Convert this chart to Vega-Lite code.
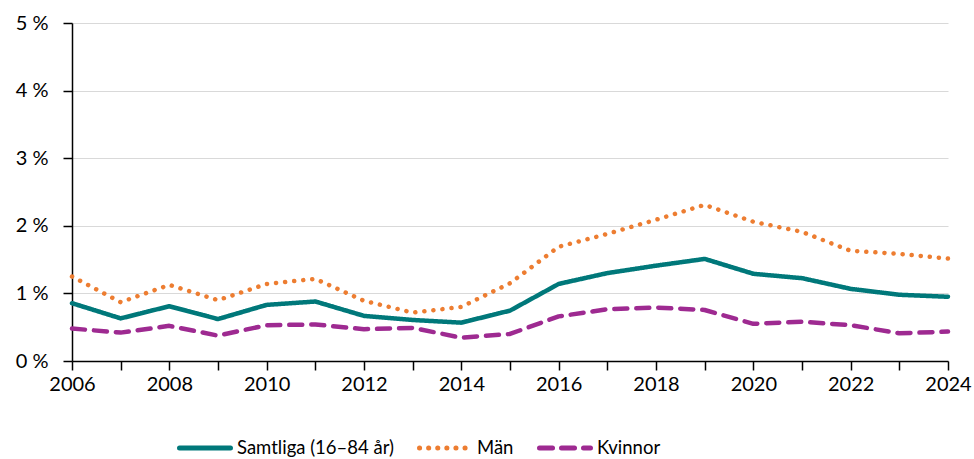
{
  "$schema": "https://vega.github.io/schema/vega-lite/v6.json",
  "width": 876,
  "height": 338,
  "autosize": {"type": "none"},
  "padding": {"left": 72, "top": 23, "right": 26, "bottom": 98},
  "background": "white",
  "config": {
    "view": {"stroke": null},
    "font": "Lato",
    "axis": {"labelFont": "Lato", "labelFontSize": 20, "labelColor": "#000000"}
  },
  "data": {
    "values": [
      {"year": 2006, "serie": "Samtliga (16–84 år)", "v": 0.855},
      {"year": 2007, "serie": "Samtliga (16–84 år)", "v": 0.63},
      {"year": 2008, "serie": "Samtliga (16–84 år)", "v": 0.81},
      {"year": 2009, "serie": "Samtliga (16–84 år)", "v": 0.62},
      {"year": 2010, "serie": "Samtliga (16–84 år)", "v": 0.83},
      {"year": 2011, "serie": "Samtliga (16–84 år)", "v": 0.88},
      {"year": 2012, "serie": "Samtliga (16–84 år)", "v": 0.667},
      {"year": 2013, "serie": "Samtliga (16–84 år)", "v": 0.607},
      {"year": 2014, "serie": "Samtliga (16–84 år)", "v": 0.567},
      {"year": 2015, "serie": "Samtliga (16–84 år)", "v": 0.745},
      {"year": 2016, "serie": "Samtliga (16–84 år)", "v": 1.14},
      {"year": 2017, "serie": "Samtliga (16–84 år)", "v": 1.30},
      {"year": 2018, "serie": "Samtliga (16–84 år)", "v": 1.41},
      {"year": 2019, "serie": "Samtliga (16–84 år)", "v": 1.51},
      {"year": 2020, "serie": "Samtliga (16–84 år)", "v": 1.29},
      {"year": 2021, "serie": "Samtliga (16–84 år)", "v": 1.225},
      {"year": 2022, "serie": "Samtliga (16–84 år)", "v": 1.067},
      {"year": 2023, "serie": "Samtliga (16–84 år)", "v": 0.98},
      {"year": 2024, "serie": "Samtliga (16–84 år)", "v": 0.95},
      {"year": 2006, "serie": "Män", "v": 1.25},
      {"year": 2007, "serie": "Män", "v": 0.87},
      {"year": 2008, "serie": "Män", "v": 1.126},
      {"year": 2009, "serie": "Män", "v": 0.90},
      {"year": 2010, "serie": "Män", "v": 1.14},
      {"year": 2011, "serie": "Män", "v": 1.215},
      {"year": 2012, "serie": "Män", "v": 0.89},
      {"year": 2013, "serie": "Män", "v": 0.716},
      {"year": 2014, "serie": "Män", "v": 0.80},
      {"year": 2015, "serie": "Män", "v": 1.15},
      {"year": 2016, "serie": "Män", "v": 1.69},
      {"year": 2017, "serie": "Män", "v": 1.88},
      {"year": 2018, "serie": "Män", "v": 2.09},
      {"year": 2019, "serie": "Män", "v": 2.31},
      {"year": 2020, "serie": "Män", "v": 2.06},
      {"year": 2021, "serie": "Män", "v": 1.91},
      {"year": 2022, "serie": "Män", "v": 1.63},
      {"year": 2023, "serie": "Män", "v": 1.585},
      {"year": 2024, "serie": "Män", "v": 1.515},
      {"year": 2006, "serie": "Kvinnor", "v": 0.48},
      {"year": 2007, "serie": "Kvinnor", "v": 0.42},
      {"year": 2008, "serie": "Kvinnor", "v": 0.52},
      {"year": 2009, "serie": "Kvinnor", "v": 0.375},
      {"year": 2010, "serie": "Kvinnor", "v": 0.53},
      {"year": 2011, "serie": "Kvinnor", "v": 0.54},
      {"year": 2012, "serie": "Kvinnor", "v": 0.47},
      {"year": 2013, "serie": "Kvinnor", "v": 0.49},
      {"year": 2014, "serie": "Kvinnor", "v": 0.345},
      {"year": 2015, "serie": "Kvinnor", "v": 0.40},
      {"year": 2016, "serie": "Kvinnor", "v": 0.66},
      {"year": 2017, "serie": "Kvinnor", "v": 0.765},
      {"year": 2018, "serie": "Kvinnor", "v": 0.79},
      {"year": 2019, "serie": "Kvinnor", "v": 0.755},
      {"year": 2020, "serie": "Kvinnor", "v": 0.55},
      {"year": 2021, "serie": "Kvinnor", "v": 0.58},
      {"year": 2022, "serie": "Kvinnor", "v": 0.53},
      {"year": 2023, "serie": "Kvinnor", "v": 0.41},
      {"year": 2024, "serie": "Kvinnor", "v": 0.435}
    ]
  },
  "mark": {"type": "line", "strokeWidth": 4.5, "strokeCap": "round", "strokeJoin": "round"},
  "encoding": {
    "x": {
      "field": "year",
      "type": "quantitative",
      "scale": {"domain": [2006, 2024], "nice": false, "zero": false},
      "axis": {
        "title": null,
        "values": [2006,2007,2008,2009,2010,2011,2012,2013,2014,2015,2016,2017,2018,2019,2020,2021,2022,2023,2024],
        "format": "d",
        "labelExpr": "datum.value % 2 == 0 ? datum.label : ''",
        "grid": false,
        "domainColor": "#000000",
        "domainWidth": 1.5,
        "tickColor": "#000000",
        "tickWidth": 1.5,
        "tickSize": 9,
        "labelPadding": 4,
        "labelFlush": false,
        "labelOverlap": false
      }
    },
    "y": {
      "field": "v",
      "type": "quantitative",
      "scale": {"domain": [0, 5], "nice": false},
      "axis": {
        "title": null,
        "values": [0, 1, 2, 3, 4, 5],
        "labelExpr": "datum.value + ' %'",
        "grid": true,
        "gridColor": "#D9D9D9",
        "gridWidth": 1.2,
        "domainColor": "#000000",
        "domainWidth": 1.5,
        "tickColor": "#000000",
        "tickWidth": 1.5,
        "tickSize": 9,
        "labelPadding": 15
      }
    },
    "color": {
      "field": "serie",
      "type": "nominal",
      "sort": ["Samtliga (16–84 år)", "Män", "Kvinnor"],
      "scale": {"domain": ["Samtliga (16–84 år)", "Män", "Kvinnor"], "range": ["#00787A", "#ED7D31", "#9E2A91"]},
      "legend": {
        "title": null,
        "orient": "none",
        "legendX": 105,
        "legendY": 397,
        "direction": "horizontal",
        "symbolType": "stroke",
        "symbolSize": 2600,
        "symbolStrokeWidth": 5,
        "labelFontSize": 18.5,
        "labelFont": "Lato",
        "labelColor": "#000000",
        "labelLimit": 400,
        "columnPadding": 15,
        "labelOffset": 4,
        "encode": {"symbols": {"update": {"strokeCap": {"value": "round"}}}}
      }
    },
    "strokeDash": {
      "field": "serie",
      "type": "nominal",
      "sort": ["Samtliga (16–84 år)", "Män", "Kvinnor"],
      "scale": {"domain": ["Samtliga (16–84 år)", "Män", "Kvinnor"], "range": [[1, 0], [0.1, 9], [13, 9]]},
      "legend": null
    }
  }
}
